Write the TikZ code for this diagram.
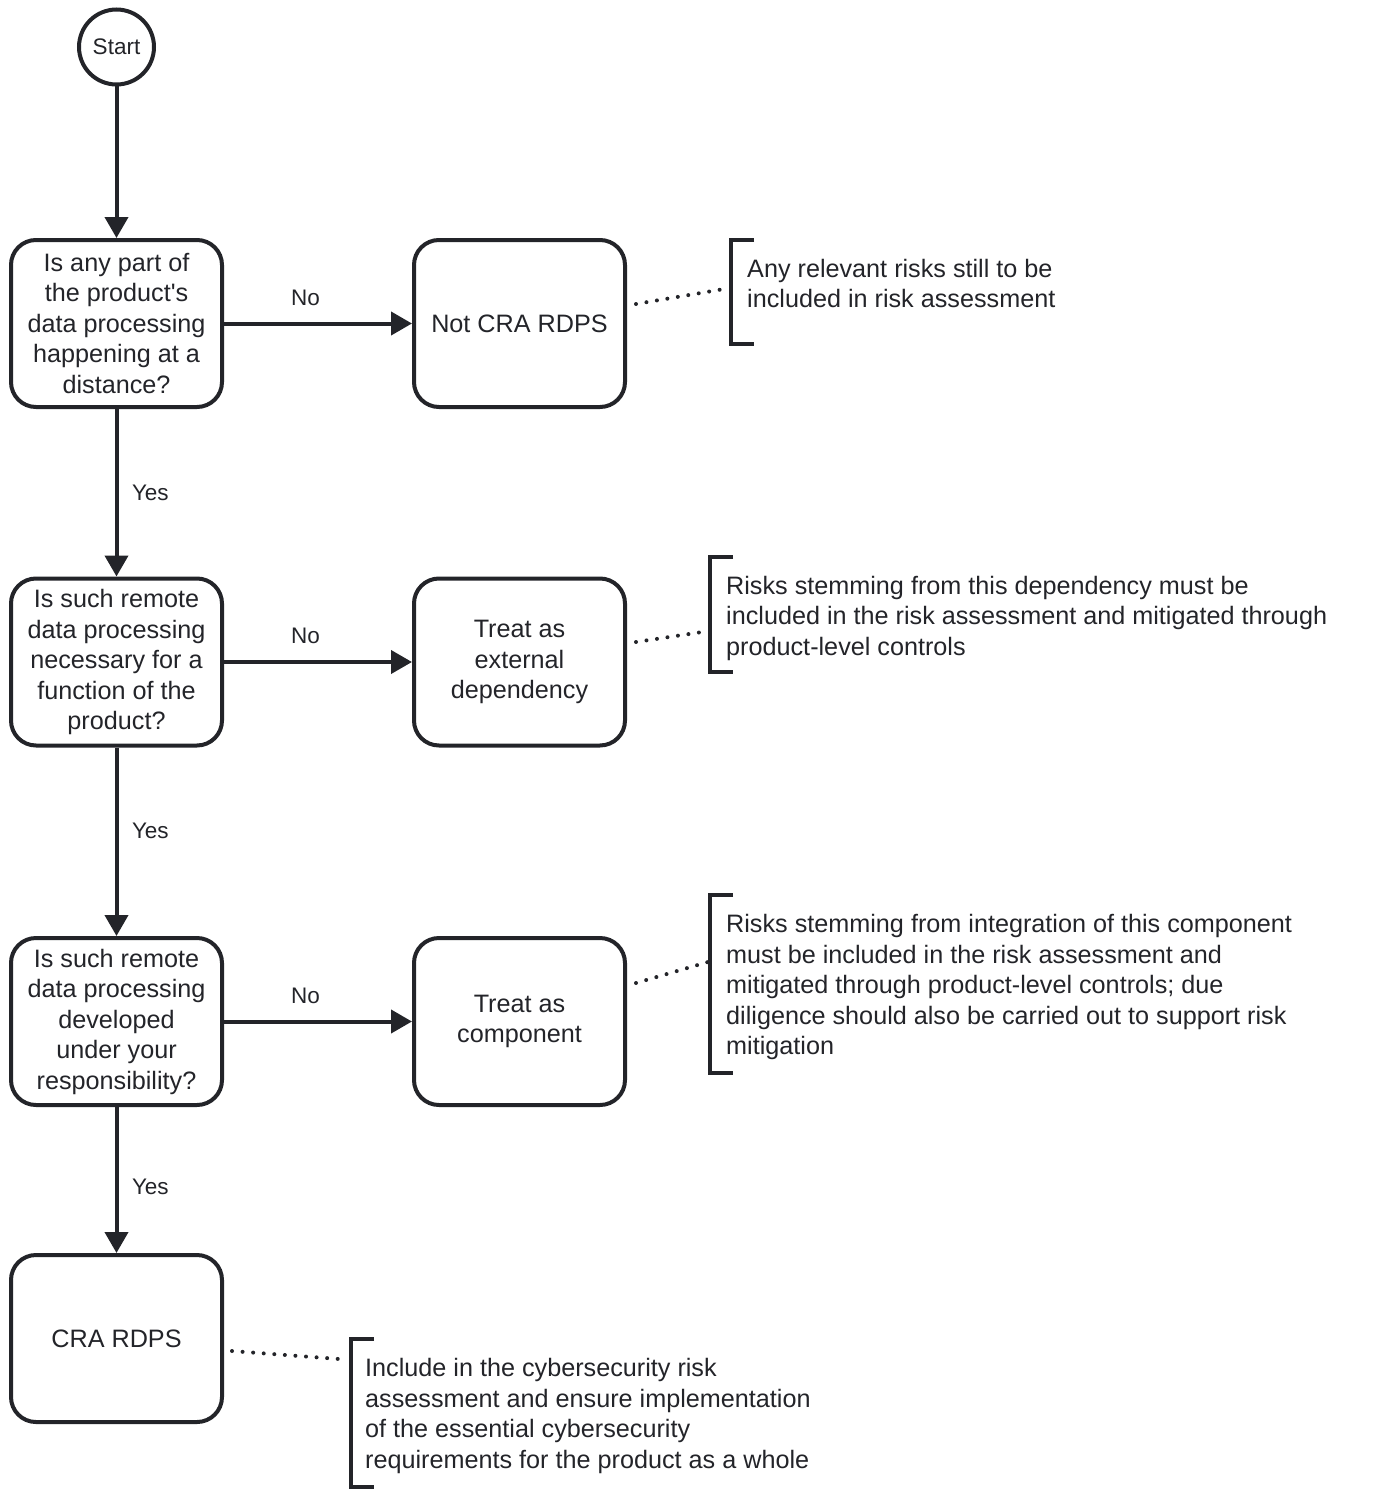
\documentclass[tikz,border=0pt]{standalone}
\usepackage{fontspec}
\setmainfont{Liberation Sans}
\usetikzlibrary{arrows.meta,positioning}
\definecolor{ink}{RGB}{35,36,41}
\newcommand\boxfont{\fontsize{25.2}{30.5}\selectfont}
\newcommand\lblfont{\fontsize{22.5}{26}\selectfont}
\tikzset{
    >={Triangle[length=21pt,width=23pt]},
    startnode/.style={circle,draw=ink,text=ink,line width=4pt,minimum size=75pt,
        inner sep=0pt,font=\lblfont},
    stepbox/.style={draw=ink,text=ink,line width=4pt,rounded corners=25pt,
        minimum width=211pt,minimum height=167pt,align=center,inner sep=2pt,font=\boxfont},
    flow/.style={->,draw=ink,line width=4pt},
    lbl/.style={text=ink,inner sep=0pt,font=\lblfont},
    notetext/.style={text=ink,align=left,inner sep=0pt,anchor=west,font=\boxfont},
    dotline/.style={draw=ink,line width=4pt,line cap=round,dash pattern=on 0pt off 10.6pt},
    bracket/.style={draw=ink,line width=4pt}
}
\newcommand\notebracket[3]{
    \draw[bracket] (#1+23,#2) -- (#1,#2) -- (#1,#3) -- (#1+23,#3);
}

\begin{document}
\begin{tikzpicture}[x=1pt,y=-1pt]
        \useasboundingbox (0,0) rectangle (1379,1498);

        % decisions
        \node[startnode] (start) at (116.5,47) {Start};
        \node[stepbox] (q1) at (116.5,323.5) {Is any part of\\the product\textquotesingle s\\data processing\\happening at a\\distance?};
        \node[stepbox] (q2) at (116.5,662) {Is such remote\\data processing\\necessary for a\\function of the\\product?};
        \node[stepbox] (q3) at (116.5,1021.5) {Is such remote\\data processing\\developed\\under your\\responsibility?};
        \node[stepbox] (cra) at (116.5,1338.5) {CRA RDPS};

        % outcomes
        \node[stepbox] (notcra) at (519.5,323.5) {Not CRA RDPS};
        \node[stepbox] (extdep) at (519.5,662) {Treat as\\external\\dependency};
        \node[stepbox] (comp) at (519.5,1021.5) {Treat as\\component};

        \draw[flow] (start) -- (q1);
        \draw[flow] (q1) -- node[lbl,right=13.5pt]{Yes} (q2);
        \draw[flow] (q2) -- node[lbl,right=13.5pt,pos=0.44]{Yes} (q3);
        \draw[flow] (q3) -- node[lbl,right=13.5pt,pos=0.546]{Yes} (cra);
        \draw[flow] (q1) -- node[lbl,above=16pt,pos=0.433]{No} (notcra);
        \draw[flow] (q2) -- node[lbl,above=16pt,pos=0.433]{No} (extdep);
        \draw[flow] (q3) -- node[lbl,above=16pt,pos=0.433]{No} (comp);

        % notes
        \node[notetext] (note1) at (747,283.5) {Any relevant risks still to be\\included in risk assessment};
        \node[notetext] (note2) at (726,618) {Risks stemming from this dependency must be\\included in the risk assessment and mitigated through\\product-level controls};
        \node[notetext] (note3) at (726,987) {Risks stemming from integration of this component\\must be included in the risk assessment and\\mitigated through product-level controls; due\\diligence should also be carried out to support risk\\mitigation};
        \node[notetext] (note4) at (365,1416) {Include in the cybersecurity risk\\assessment and ensure implementation\\of the essential cybersecurity\\requirements for the product as a whole};

        \notebracket{731}{240}{344}
        \notebracket{710}{557}{672}
        \notebracket{710}{895}{1073}
        \notebracket{351}{1339}{1487}

        \coordinate (b1) at (730,288);
        \coordinate (b2) at (709,631);
        \coordinate (b3) at (708,962);
        \coordinate (b4) at (339,1359);
        \draw[dotline] ([shift={(9pt,19.5pt)}]notcra.east) -- (b1);
        \draw[dotline] ([shift={(9pt,20pt)}]extdep.east) -- (b2);
        \draw[dotline] ([shift={(9pt,38.5pt)}]comp.east) -- (b3);
        \draw[dotline] ([shift={(8pt,-12.5pt)}]cra.east) -- (b4);
    \end{tikzpicture}
\end{document}
